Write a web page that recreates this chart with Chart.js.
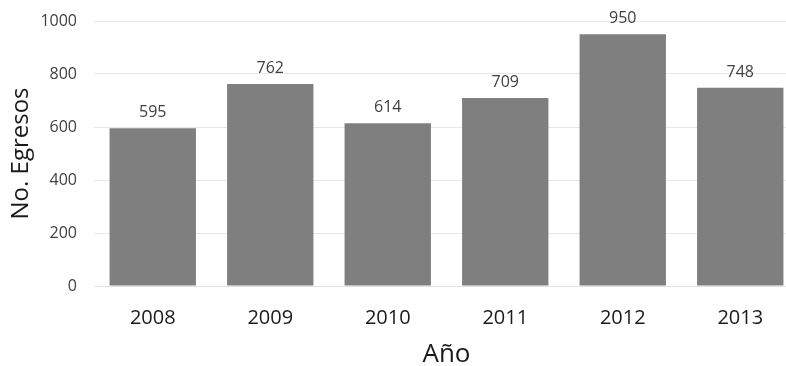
<!DOCTYPE html>
<html>
<head>
<meta charset="utf-8">
<script src="https://cdn.jsdelivr.net/npm/chart.js@4/dist/chart.umd.min.js"></script>
<style>
html,body{margin:0;padding:0;background:#fff;overflow:hidden;}
#wrap{width:800px;height:366px;position:relative;}
</style>
</head>
<body>
<div id="wrap"><canvas id="c" width="800" height="366"></canvas></div>
<script>
const categories = ["2008","2009","2010","2011","2012","2013"];
const egresos = [595, 762, 614, 709, 950, 748];
const yTicks = [0, 200, 400, 600, 800, 1000];

const FONT = "'Open Sans', sans-serif";

const valueLabels = {
  id: 'valueLabels',
  afterDatasetsDraw(chart) {
    const ctx = chart.ctx;
    const meta = chart.getDatasetMeta(0);
    ctx.save();
    ctx.font = "16px " + FONT;
    ctx.fillStyle = "#404040";
    ctx.textAlign = "center";
    ctx.textBaseline = "alphabetic";
    meta.data.forEach((bar, i) => {
      ctx.fillText(String(egresos[i]), bar.x, bar.y - 11);
    });
    ctx.restore();
  }
};

new Chart(document.getElementById('c'), {
  type: 'bar',
  data: {
    labels: categories,
    datasets: [{
      data: egresos,
      backgroundColor: '#7f7f7f',
      borderWidth: 0,
      barPercentage: 0.735,
      categoryPercentage: 1.0
    }]
  },
  options: {
    responsive: false,
    animation: false,
    devicePixelRatio: 1,
    layout: { padding: { top: 21, right: 1, left: 0, bottom: 0 } },
    plugins: { legend: { display: false }, tooltip: { enabled: false } },
    scales: {
      x: {
        grid: { display: false, drawTicks: false },
        border: { display: true, color: '#e3e3e3', width: 1 },
        ticks: { color: '#1a1a1a', font: { family: FONT, size: 20 }, padding: 20, maxRotation: 0 },
        title: { display: true, text: 'Año', color: '#1a1a1a', font: { family: FONT, size: 26, lineHeight: 0.9 }, padding: { top: 0, bottom: 0 } },
        afterFit(scale) { scale.height = 80; }
      },
      y: {
        min: 0, max: 1000,
        afterBuildTicks(scale) { scale.ticks = yTicks.map(v => ({ value: v })); },
        grid: { color: '#e6e6e6', lineWidth: 1, drawTicks: true, tickLength: 17, tickColor: 'rgba(0,0,0,0)' },
        border: { display: false },
        ticks: { color: '#404040', font: { family: FONT, size: 16 }, padding: 0, callback: (v) => String(v) },
        title: { display: true, text: 'No. Egresos', color: '#1a1a1a', font: { family: FONT, size: 24 }, padding: { top: 7, bottom: 0 } },
        afterFit(scale) { scale.width = 94; }
      }
    }
  },
  plugins: [valueLabels]
});
</script>
</body>
</html>
